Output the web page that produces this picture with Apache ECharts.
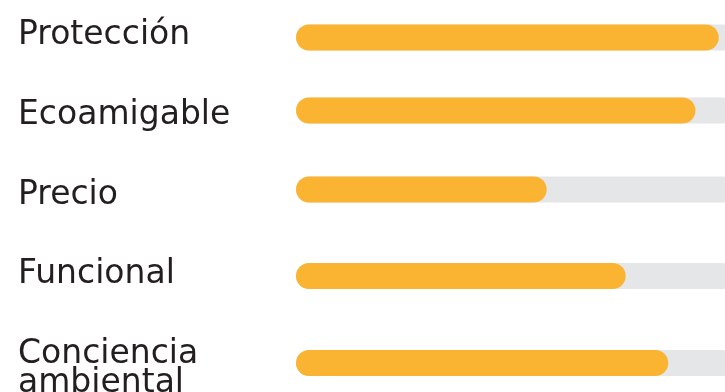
<!DOCTYPE html>
<html><head><meta charset="utf-8">
<script src="https://cdn.jsdelivr.net/npm/echarts@6/dist/echarts.min.js"></script>
<style>html,body{margin:0;padding:0;background:#fff}#c{width:725px;height:392px}</style>
</head><body><div id="c"></div>
<script>
var categories = ['Protección', 'Ecoamigable', 'Precio', 'Funcional', 'Conciencia\nambiental'];
var values = [96.3, 91, 57.1, 75.1, 84.8];
var axisMax = 100;

// layout only: vertical centre of each row's bar and of its label block (px)
var barCenters = [37.5, 110.5, 189.5, 276, 363];
var labelCenters = [35, 115, 195, 274, 368.5];
var barH = 26;

var grids = [], xAxes = [], yAxes = [], series = [];
var n = categories.length;
categories.forEach(function (cat, i) {
  grids.push({ left: 296, width: 439, top: barCenters[i] - barH / 2, height: barH,
    outerBoundsMode: 'none', containLabel: false });
  xAxes.push({ gridIndex: i, type: 'value', min: 0, max: axisMax, show: false });
  yAxes.push({ gridIndex: i, type: 'category', data: [cat], show: false });
  series.push({
    type: 'bar', xAxisIndex: i, yAxisIndex: i, data: [values[i]], barWidth: barH,
    itemStyle: { color: '#FBB431', borderRadius: barH / 2 },
    showBackground: true,
    backgroundStyle: { color: '#E5E6E8', borderRadius: barH / 2 }
  });
});
categories.forEach(function (cat, i) {
  var g = n + i;
  grids.push({ left: 296, width: 439, top: labelCenters[i] - 1, height: 2,
    outerBoundsMode: 'none', containLabel: false });
  xAxes.push({ gridIndex: g, type: 'value', min: 0, max: axisMax, show: false });
  yAxes.push({
    gridIndex: g, type: 'category', data: [cat],
    axisLine: { show: false }, axisTick: { show: false },
    axisLabel: {
      margin: 278, align: 'left', color: '#231F20',
      fontFamily: 'DejaVu Sans', fontSize: 33, lineHeight: 29
    }
  });
});

var chart = echarts.init(document.getElementById('c'));
chart.setOption({ animation: false, grid: grids, xAxis: xAxes, yAxis: yAxes, series: series });
</script></body></html>
